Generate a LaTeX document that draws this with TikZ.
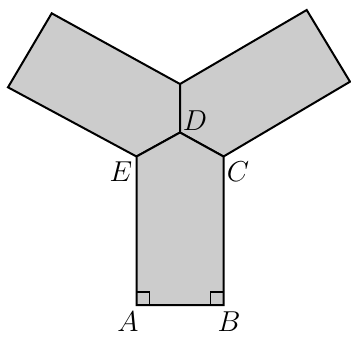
\documentclass[tikz,border=0pt]{standalone}
\usepackage{tikz}
\usetikzlibrary{calc}
\definecolor{piecefill}{RGB}{204,204,204}

\begin{document}
\begin{tikzpicture}[
  x=0.5pt,y=-0.5pt,
  every node/.style={font=\Large,inner sep=0pt},
  piece/.style={draw=black,fill=piecefill,line width=1pt,line join=miter},
  rmark/.style={draw=black,line width=0.6pt},
  ]

  \useasboundingbox (0,0) rectangle (351,339);

  %─── Corner points ─────────────────────────────────────────────────────────
  \coordinate (A) at (136.5,305);
  \coordinate (B) at (223.5,305);
  \coordinate (C) at (223.5,156.5);
  \coordinate (D) at (180,132.5);
  \coordinate (E) at (136.5,156.5);
  \coordinate (top) at (180,84);
  % left wing
  \coordinate (lw1) at (8,87.3);
  \coordinate (lw2) at (51.7,13.3);
  % right wing
  \coordinate (rw1) at (306.7,10);
  \coordinate (rw2) at (350,81.7);

  %─── Shaded pieces ─────────────────────────────────────────────────────────
  \path[piece] (E) -- (lw1) -- (lw2) -- (top) -- (D) -- cycle;
  \path[piece] (C) -- (D) -- (top) -- (rw1) -- (rw2) -- cycle;
  \path[piece] (A) -- (B) -- (C) -- (D) -- (E) -- cycle;

  %─── Right angle marks ─────────────────────────────────────────────────────
  \draw[rmark] ($(A)+(0,-13)$) -- ++(13,0) -- ++(0,13);
  \draw[rmark] ($(B)+(0,-13)$) -- ++(-13,0) -- ++(0,13);

  %─── Labels ────────────────────────────────────────────────────────────────
  \node (lblA) at (128,322) {$A$};
  \node (lblB) at (229,322) {$B$};
  \node (lblC) at (238,172) {$C$};
  \node (lblD) at (195,121) {$D$};
  \node (lblE) at (121,172) {$E$};

\end{tikzpicture}
\end{document}
